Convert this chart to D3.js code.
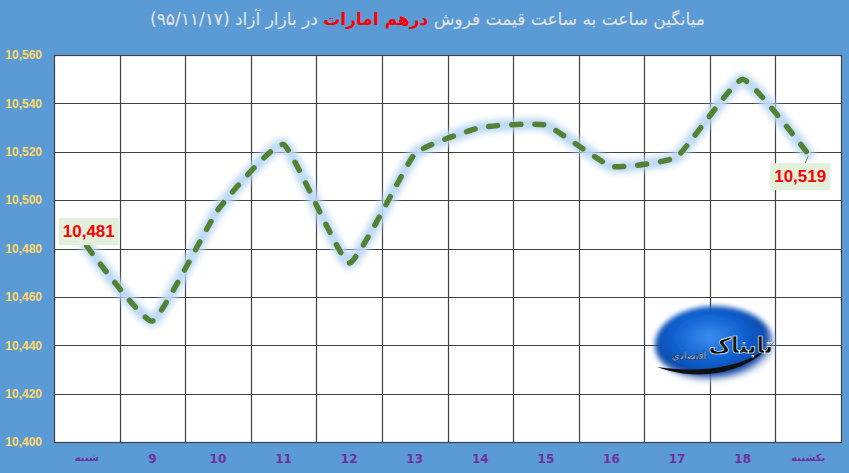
<!DOCTYPE html>
<html>
<head>
<meta charset="utf-8">
<script src="https://cdn.jsdelivr.net/npm/d3@7"></script>
<style>
  html, body { margin: 0; padding: 0; background: #5b9bd5; }
  svg { display: block; }
</style>
</head>
<body>
<svg id="chart"></svg>
<script>
// hours / days along the bottom
const categories = ['شنبه', '9', '10', '11', '12', '13', '14', '15', '16', '17', '18', 'یکشنبه'];
// dirham sell price
const prices = [10481, 10450, 10496, 10523, 10474, 10519, 10530, 10531, 10514, 10518, 10550, 10519];
const yTicks = [10400, 10420, 10440, 10460, 10480, 10500, 10520, 10540, 10560];
// which points get a value label
const labelled = [0, 11];

const width = 849, height = 473;
const margin = {top: 55, right: 8, bottom: 31, left: 54};

const svg = d3.select('#chart')
  .attr('width', width)
  .attr('height', height);

svg.append('rect')
  .attr('width', width)
  .attr('height', height)
  .attr('fill', '#5b9bd5');

const defs = svg.append('defs');
defs.append('filter')
  .attr('id', 'glow')
  .attr('x', '-10%').attr('y', '-10%')
  .attr('width', '120%').attr('height', '120%')
  .append('feGaussianBlur')
  .attr('stdDeviation', 3);

defs.append('filter')
  .attr('id', 'soft')
  .append('feGaussianBlur')
  .attr('stdDeviation', 2.5);

const grad = defs.append('radialGradient')
  .attr('id', 'logoGrad')
  .attr('cx', '45%').attr('cy', '40%').attr('r', '60%');
grad.append('stop').attr('offset', '0%').attr('stop-color', '#3a8ef0');
grad.append('stop').attr('offset', '55%').attr('stop-color', '#0b5ccc');
grad.append('stop').attr('offset', '80%').attr('stop-color', '#0a4aa8');
grad.append('stop').attr('offset', '100%').attr('stop-color', '#ffffff').attr('stop-opacity', 0.2);

const x = d3.scaleBand()
  .domain(categories)
  .range([margin.left, width - margin.right])
  .padding(0);

const y = d3.scaleLinear()
  .domain([yTicks[0], yTicks[yTicks.length - 1]])
  .range([height - margin.bottom, margin.top]);

// plot area
svg.append('rect')
  .attr('x', margin.left)
  .attr('y', margin.top)
  .attr('width', width - margin.left - margin.right)
  .attr('height', height - margin.top - margin.bottom)
  .attr('fill', '#ffffff');

// grid
const grid = svg.append('g')
  .attr('stroke', '#404040')
  .attr('stroke-width', 1.2);

grid.selectAll('line.h')
  .data(yTicks)
  .join('line')
  .attr('class', 'h')
  .attr('x1', margin.left)
  .attr('x2', width - margin.right)
  .attr('y1', d => Math.round(y(d)) + 0.5)
  .attr('y2', d => Math.round(y(d)) + 0.5);

grid.selectAll('line.v')
  .data(categories.slice(1))
  .join('line')
  .attr('class', 'v')
  .attr('x1', d => Math.round(x(d)) + 0.5)
  .attr('x2', d => Math.round(x(d)) + 0.5)
  .attr('y1', margin.top)
  .attr('y2', height - margin.bottom);

grid.append('rect')
  .attr('x', margin.left + 0.5)
  .attr('y', margin.top + 0.5)
  .attr('width', width - margin.left - margin.right)
  .attr('height', height - margin.top - margin.bottom)
  .attr('fill', 'none');

// logo watermark
const logo = svg.append('g').attr('transform', 'translate(715,345)');
logo.append('ellipse')
  .attr('rx', 60).attr('ry', 39)
  .attr('fill', 'url(#logoGrad)')
  .attr('filter', 'url(#soft)');
logo.append('path')
  .attr('d', 'M-58,22 C-20,36 30,32 60,-4 C32,24 -15,28 -58,22 Z')
  .attr('fill', '#111');
logo.append('text')
  .attr('x', 58).attr('y', 8)
  .attr('text-anchor', 'start')
  .attr('direction', 'rtl')
  .attr('font-family', 'DejaVu Sans')
  .attr('font-weight', 'bold')
  .attr('font-size', 22)
  .attr('fill', '#111')
  .attr('stroke', '#fff')
  .attr('stroke-width', 0.6)
  .text('تابناک');
logo.append('text')
  .attr('x', -9).attr('y', 14)
  .attr('text-anchor', 'start')
  .attr('direction', 'rtl')
  .attr('font-family', 'DejaVu Sans')
  .attr('font-size', 10)
  .attr('fill', '#fff')
  .attr('stroke', '#111')
  .attr('stroke-width', 0.4)
  .text('اقتصادی');

// axes
const yAxis = svg.append('g')
  .attr('transform', `translate(${margin.left},0)`)
  .call(d3.axisLeft(y).tickValues(yTicks).tickSize(0).tickPadding(12).tickFormat(d3.format(',')));
yAxis.select('.domain').remove();
yAxis.selectAll('text')
  .attr('fill', '#ffd966')
  .attr('font-family', 'Liberation Sans, Arial, sans-serif')
  .attr('font-weight', 'bold')
  .attr('font-size', 12);

const xAxis = svg.append('g')
  .attr('transform', `translate(0,${height - margin.bottom})`)
  .call(d3.axisBottom(x).tickSize(0).tickPadding(12));
xAxis.select('.domain').remove();
xAxis.selectAll('text')
  .attr('fill', '#7030a0')
  .attr('font-family', 'DejaVu Sans, Liberation Sans, sans-serif')
  .attr('font-weight', 'bold')
  .attr('font-size', d => isNaN(+d) ? 10 : 12);

// line (Excel-style smoothing, fairly tight)
const line = d3.line()
  .x((d, i) => x(categories[i]) + x.bandwidth() / 2)
  .y(d => y(d))
  .curve(d3.curveCardinal.tension(0.6));

svg.append('path')
  .datum(prices)
  .attr('d', line)
  .attr('fill', 'none')
  .attr('stroke', '#bcd8f4')
  .attr('stroke-width', 12)
  .attr('stroke-linecap', 'round')
  .attr('stroke-linejoin', 'round')
  .attr('filter', 'url(#glow)');

svg.append('path')
  .datum(prices)
  .attr('d', line)
  .attr('fill', 'none')
  .attr('stroke', '#548235')
  .attr('stroke-width', 5.5)
  .attr('stroke-dasharray', '9,14')
  .attr('stroke-linecap', 'round')
  .attr('stroke-linejoin', 'round');

// value labels
const labelBox = [
  {dx: 2, dy: -15},
  {dx: -8, dy: 22}
];
labelled.forEach((idx, k) => {
  const px = x(categories[idx]) + x.bandwidth() / 2;
  const py = y(prices[idx]);
  const cx = px + labelBox[k].dx;
  const cy = py + labelBox[k].dy;
  if (k === 1) {
    svg.append('line')
      .attr('x1', px).attr('y1', py + 2)
      .attr('x2', cx + 5).attr('y2', cy - 13)
      .attr('stroke', '#7f7f7f')
      .attr('stroke-width', 1);
  }
  svg.append('rect')
    .attr('x', cx - 30).attr('y', cy - 13)
    .attr('width', 60).attr('height', 27)
    .attr('fill', '#e2efda');
  svg.append('text')
    .attr('x', cx).attr('y', cy + 6)
    .attr('text-anchor', 'middle')
    .attr('fill', '#ff0000')
    .attr('font-family', 'Liberation Sans, Arial, sans-serif')
    .attr('font-weight', 'bold')
    .attr('font-size', 17)
    .text(d3.format(',')(prices[idx]));
});

// title
const title = svg.append('text')
  .attr('x', width / 2 + 3)
  .attr('y', 25)
  .attr('text-anchor', 'middle')
  .attr('direction', 'rtl')
  .attr('font-family', 'DejaVu Sans, sans-serif')
  .attr('font-size', 17)
  .attr('fill', '#e7e6e6');
title.append('tspan').text('میانگین ساعت به ساعت قیمت فروش ');
title.append('tspan').attr('fill', '#ff0000').attr('font-weight', 'bold').text('درهم امارات');
title.append('tspan').text(' در بازار آزاد (۹۵/۱۱/۱۷)');
</script>
</body>
</html>
